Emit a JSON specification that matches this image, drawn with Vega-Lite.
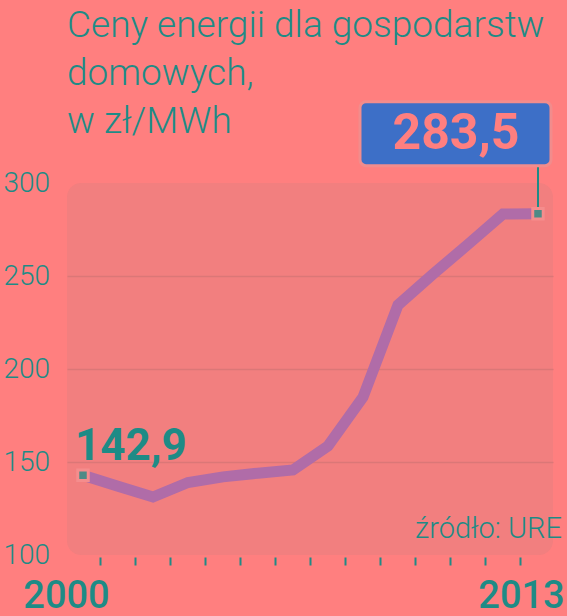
{
  "$schema": "https://vega.github.io/schema/vega-lite/v6.json",
  "width": 486,
  "height": 372,
  "autosize": {"type": "none"},
  "padding": {"left": 67, "top": 183, "right": 14, "bottom": 61},
  "background": "#FF7F7F",
  "config": {
    "view": {"fill": "#F27F7F", "stroke": null, "cornerRadius": 14},
    "font": "Roboto"
  },
  "title": {
    "text": ["Ceny energii dla gospodarstw", "domowych,", "w zł/MWh"],
    "anchor": "start",
    "frame": "group",
    "fontSize": 37,
    "fontWeight": 300,
    "font": "Roboto",
    "color": "#1E8B86",
    "lineHeight": 48,
    "offset": 40,
    "dy": 81
  },
  "datasets": {
    "prices": [
      {"year": 2000, "value": 142.9},
      {"year": 2001, "value": 137.0},
      {"year": 2002, "value": 131.2},
      {"year": 2003, "value": 139.0},
      {"year": 2004, "value": 142.0},
      {"year": 2005, "value": 144.0},
      {"year": 2006, "value": 145.7},
      {"year": 2007, "value": 158.6},
      {"year": 2008, "value": 184.9},
      {"year": 2009, "value": 234.4},
      {"year": 2010, "value": 251.0},
      {"year": 2011, "value": 267.0},
      {"year": 2012, "value": 283.3},
      {"year": 2013, "value": 283.5}
    ],
    "ends": [
      {"year": 2000, "value": 142.9, "label": "142,9"},
      {"year": 2013, "value": 283.5, "label": "283,5"}
    ],
    "source": [
      {"year": 2013, "value": 100, "label": "źródło: URE"}
    ]
  },
  "layer": [
    {
      "data": {"name": "prices"},
      "mark": {"type": "line", "color": "#B06CA8", "strokeWidth": 11, "strokeJoin": "miter", "strokeCap": "butt"},
      "encoding": {
        "x": {
          "field": "year",
          "type": "quantitative",
          "scale": {"domain": [1999.543, 2013.429], "nice": false, "zero": false},
          "axis": {
            "values": [2000, 2000.5, 2001.5, 2002.5, 2003.5, 2004.5, 2005.5, 2006.5, 2007.5, 2008.5, 2009.5, 2010.5, 2011.5, 2012.5, 2013],
            "tickCount": 40,
            "labelExpr": "datum.value == 2000 || datum.value == 2013 ? format(datum.value, 'd') : ''",
            "grid": false,
            "domain": false,
            "tickSize": 8,
            "tickWidth": 2,
            "tickColor": "#1E8B86",
            "tickOpacity": {"condition": {"test": "datum.value == 2000 || datum.value == 2013", "value": 0}, "value": 1},
            "offset": 2,
            "labelFontSize": 38,
            "labelFontWeight": 500,
            "labelColor": "#1E8B86",
            "labelPadding": 42,
            "labelOffset": -17,
            "labelBaseline": "alphabetic",
            "labelFlush": false,
            "labelOverlap": false,
            "title": null
          }
        },
        "y": {
          "field": "value",
          "type": "quantitative",
          "scale": {"domain": [100, 300], "nice": false, "zero": false},
          "axis": {
            "values": [100, 150, 200, 250, 300],
            "tickCount": 10,
            "grid": true,
            "gridColor": "#DB7777",
            "gridWidth": 1.5,
            "gridOpacity": {"condition": {"test": "datum.value == 100 || datum.value == 300", "value": 0}, "value": 1},
            "domain": false,
            "ticks": false,
            "labelPadding": 64,
            "labelAlign": "left",
            "labelBaseline": "middle",
            "labelFontSize": 28,
            "labelFontWeight": 300,
            "labelColor": "#1E8B86",
            "labelFlush": false,
            "labelOverlap": false,
            "title": null
          }
        }
      }
    },
    {
      "data": {"name": "source"},
      "mark": {"type": "text", "align": "right", "baseline": "alphabetic", "dx": 24, "dy": -17, "fontSize": 29, "fontWeight": 300, "font": "Roboto", "color": "#1E8B86"},
      "encoding": {
        "x": {"field": "year", "type": "quantitative"},
        "y": {"field": "value", "type": "quantitative"},
        "text": {"field": "label"}
      }
    },
    {
      "data": {"name": "ends"},
      "transform": [{"filter": "datum.year == 2013"}],
      "mark": {"type": "tick", "orient": "vertical", "size": 41, "thickness": 2, "color": "#1E8B86", "yOffset": -26.5, "opacity": 1},
      "encoding": {
        "x": {"field": "year", "type": "quantitative"},
        "y": {"field": "value", "type": "quantitative"}
      }
    },
    {
      "data": {"name": "ends"},
      "mark": {"type": "point", "shape": "square", "size": 110, "filled": true, "fill": "#4E8A86", "stroke": "#F58D8D", "strokeWidth": 3, "opacity": 1},
      "encoding": {
        "x": {"field": "year", "type": "quantitative"},
        "y": {"field": "value", "type": "quantitative"}
      }
    },
    {
      "data": {"name": "ends"},
      "transform": [{"filter": "datum.year == 2013"}],
      "mark": {"type": "rect", "width": 191, "height": 64, "xOffset": -82.5, "yOffset": -80, "fill": "#3D6FC7", "stroke": "#F28C8C", "strokeWidth": 3, "cornerRadius": 6},
      "encoding": {
        "x": {"field": "year", "type": "quantitative"},
        "y": {"field": "value", "type": "quantitative"}
      }
    },
    {
      "data": {"name": "ends"},
      "transform": [{"filter": "datum.year == 2013"}],
      "mark": {"type": "text", "align": "center", "baseline": "alphabetic", "dx": -82, "dy": -65, "fontSize": 50, "fontWeight": "bold", "font": "Roboto", "color": "#FF7F7F"},
      "encoding": {
        "x": {"field": "year", "type": "quantitative"},
        "y": {"field": "value", "type": "quantitative"},
        "text": {"field": "label"}
      }
    },
    {
      "data": {"name": "ends"},
      "transform": [{"filter": "datum.year == 2000"}],
      "mark": {"type": "text", "align": "left", "baseline": "alphabetic", "dx": -8, "dy": -15, "fontSize": 44, "fontWeight": "bold", "font": "Roboto", "color": "#1E8B86"},
      "encoding": {
        "x": {"field": "year", "type": "quantitative"},
        "y": {"field": "value", "type": "quantitative"},
        "text": {"field": "label"}
      }
    }
  ]
}
